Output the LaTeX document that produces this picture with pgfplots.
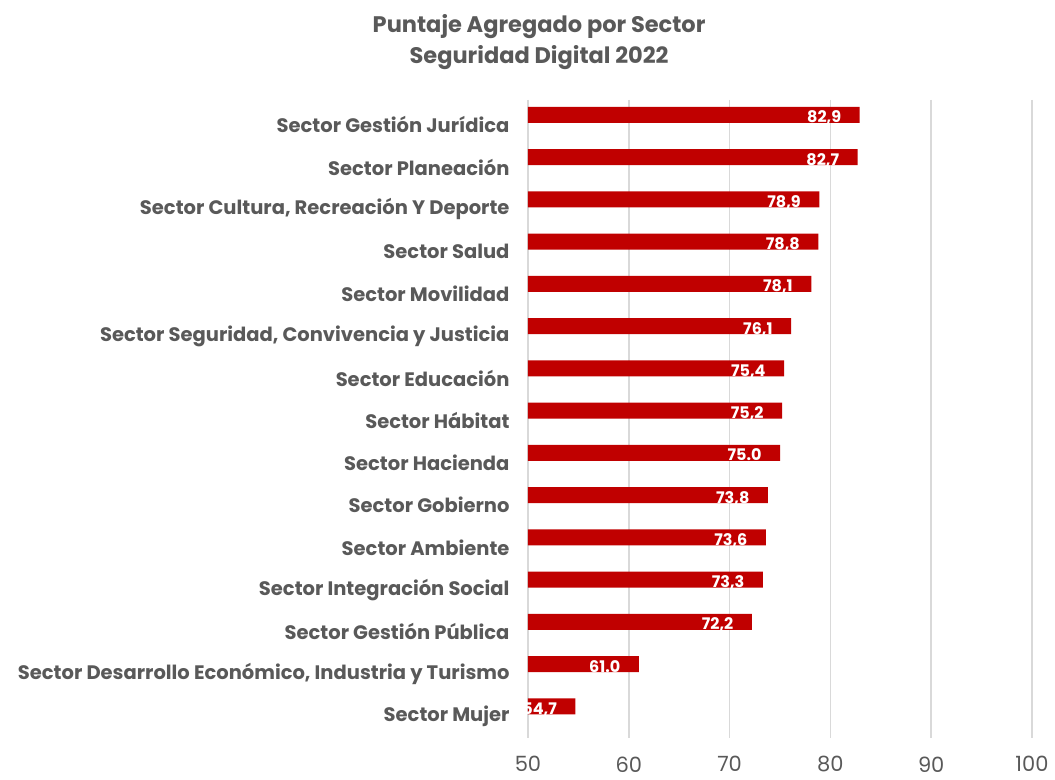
\documentclass[border=0pt]{standalone}
\usepackage{pgfplots}
\pgfplotsset{compat=1.18}
\usepackage{fontspec}
\setmainfont{Poppins}
\definecolor{barred}{HTML}{C00000}
\definecolor{txtgray}{HTML}{595959}
\definecolor{gridgray}{HTML}{D9D9D9}

\pgfplotstableread{
v i lab
82.9 0 82,9
82.7 1 82,7
78.9 2 78,9
78.8 3 78,8
78.1 4 78,1
76.1 5 76,1
75.4 6 75,4
75.2 7 75,2
75.0 8 75.0
73.8 9 73,8
73.6 10 73,6
73.3 11 73,3
72.2 12 72,2
61.0 13 61.0
54.7 14 54,7
}\sectores

\begin{document}
\begin{tikzpicture}
\begin{axis}[
    scale only axis,
    width=504pt, height=638pt,
    xbar, bar width=16pt, bar shift=10pt,
    xmin=50, xmax=100,
    ymin=-0.59, ymax=14.51,
    y dir=reverse,
    xtick={50,60,...,100},
    ytick={0,...,14},
    yticklabels={Sector Gestión Jurídica, Sector Planeación, {Sector Cultura, Recreación Y Deporte}, Sector Salud, Sector Movilidad, {Sector Seguridad, Convivencia y Justicia}, Sector Educación, Sector Hábitat, Sector Hacienda, Sector Gobierno, Sector Ambiente, Sector Integración Social, Sector Gestión Pública, {Sector Desarrollo Económico, Industria y Turismo}, Sector Mujer},
    axis line style={draw=none},
    major tick length=0pt,
    xmajorgrids,
    grid style={gridgray, line width=1.5pt},
    /pgf/number format/assume math mode=true,
    xticklabel style={font=\fontsize{21}{25}\selectfont, text=txtgray, yshift=-15pt},
    yticklabel style={font=\fontsize{19.5}{23}\selectfont\bfseries, text=txtgray, anchor=east, xshift=-15pt},
    point meta=explicit symbolic,
    nodes near coords={\pgfplotspointmeta},
    nodes near coords style={font=\fontsize{16}{19}\selectfont\bfseries, text=white, anchor=base east, xshift=-15pt, yshift=-8pt},
    clip=false,
]
\addplot[fill=barred, draw=none] table[x=v, y=i, meta=lab] {\sectores};
\node[font=\fontsize{22.5}{31}\selectfont\bfseries, text=txtgray, align=center] at (rel axis cs:0.022,1.091) {Puntaje Agregado por Sector\\Seguridad Digital 2022};
\coordinate (bl) at (rel axis cs:-1.0476,-0.0658);
\coordinate (tr) at (rel axis cs:1.0456,1.1567);
\end{axis}
\pgfresetboundingbox
\path[use as bounding box] (bl) rectangle (tr);
\end{tikzpicture}
\end{document}
